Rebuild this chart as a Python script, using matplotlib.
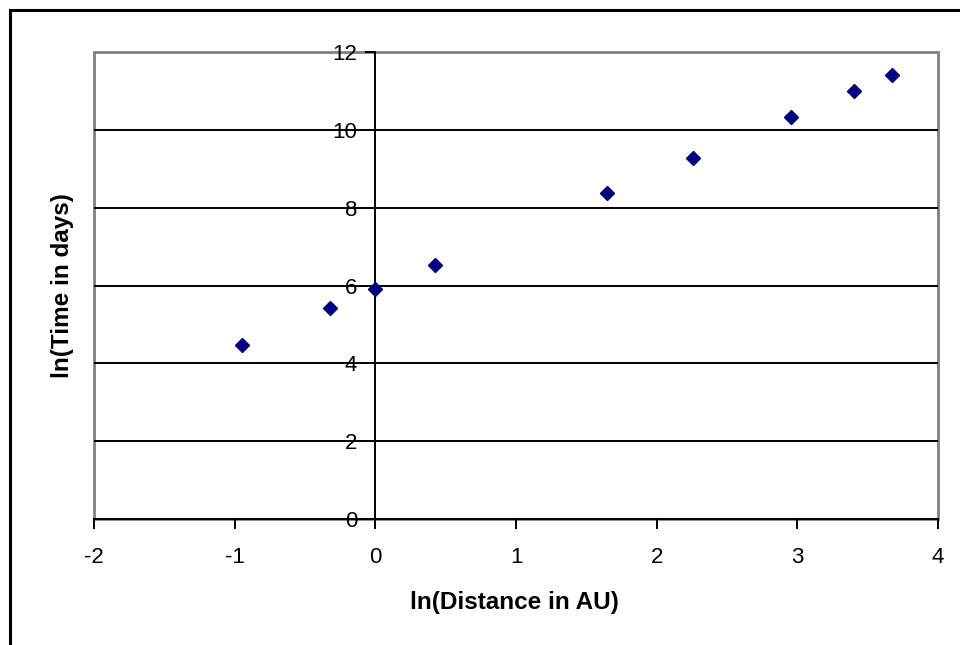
import matplotlib
matplotlib.use("Agg")
import matplotlib.pyplot as plt
from matplotlib.patches import Rectangle

# ln(semi-major axis in AU) and ln(orbital period in days)
ln_distance = [-0.949, -0.324, 0.0, 0.421, 1.649, 2.255, 2.954, 3.404, 3.676]
ln_time = [4.477, 5.415, 5.900, 6.532, 8.374, 9.283, 10.33, 11.005, 11.414]

x_ticks = [-2, -1, 0, 1, 2, 3, 4]
y_ticks = [0, 2, 4, 6, 8, 10, 12]

plt.rcParams['font.family'] = ['Liberation Sans', 'DejaVu Sans']
plt.rcParams['axes.unicode_minus'] = False

fig = plt.figure(figsize=(9.6, 6.45), dpi=100)
ax = fig.add_axes([94/960, 1-519/645, (938-94)/960, (519-52)/645])

ax.set_xlim(-2, 4)
ax.set_ylim(0, 12)

# grey plot-area border
ax.add_patch(Rectangle((0, 0), 1, 1, transform=ax.transAxes, fill=False,
                       edgecolor='#808080', linewidth=2, zorder=0.5, clip_on=False))

for y in y_ticks[1:-1]:
    ax.axhline(y, color='black', linewidth=1.4, zorder=1)

ax.spines['top'].set_visible(False)
ax.spines['right'].set_visible(False)
ax.spines['left'].set_position(('data', 0))
ax.spines['left'].set_linewidth(1.4)
ax.spines['bottom'].set_linewidth(1.4)

ax.set_xticks(x_ticks)
ax.set_yticks(y_ticks)
ax.tick_params(axis='both', direction='out', length=7, width=1.4, labelsize=16)
ax.tick_params(axis='x', pad=13)
ax.tick_params(axis='y', pad=6)

ax.plot(ln_distance, ln_time, linestyle='none', marker='D', markersize=7,
        color='#000080', zorder=3, clip_on=False)

fig.text(514/960, 1-602/645, 'ln(Distance in AU)', ha='center', va='center',
         fontsize=17.5, fontweight='bold')
fig.text(62/960, 1-286/645, 'ln(Time in days)', ha='center', va='center',
         rotation=90, fontsize=17.5, fontweight='bold')

# outer chart border (only top and left visible in the crop)
fig.add_artist(Rectangle((10/960, -0.2), 1.2, 1 - 10/645 + 0.2, transform=fig.transFigure,
                         fill=False, edgecolor='black', linewidth=2.2, clip_on=False))

fig.savefig('out.png', dpi=100)
